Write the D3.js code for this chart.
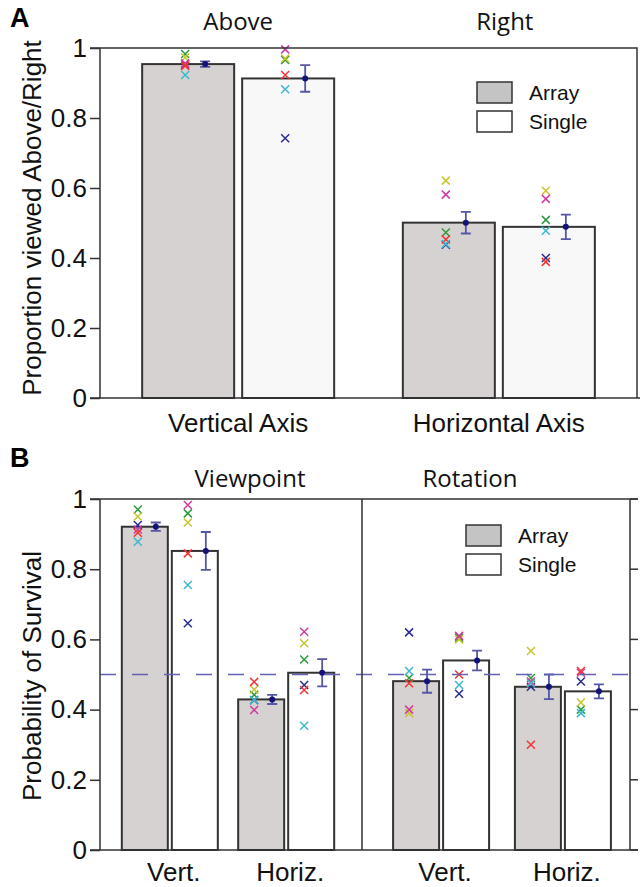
<!DOCTYPE html>
<html>
<head>
<meta charset="utf-8">
<script src="https://cdn.jsdelivr.net/npm/d3@7"></script>
<style>
  body { margin: 0; background: #fff; }
  svg { display: block; }
</style>
</head>
<body>
<div id="canvas"></div>
<script>
"use strict"

/* ---- Data ---- */
let conditions = ["Array", "Single"];
// one colour per subject: green, yellow, magenta, red, cyan, blue
let subjectColors = ["#2e9a3e", "#c9c52e", "#d23ca0", "#f23434", "#3cb8cc", "#2b2b8e"];
let yTicks = [0, 0.2, 0.4, 0.6, 0.8, 1];

// Panel A
let axesA = ["Vertical Axis", "Horizontal Axis"];
let headersA = ["Above", "Right"];
let meanA_array = [0.954, 0.501];
let meanA_single = [0.913, 0.489];
let errA_array = [0.008, 0.031];
let errA_single = [0.038, 0.035];
// per axis, per subject (green, yellow, magenta, red, cyan, blue)
let subjA_array = [
  [0.983, 0.973, 0.956, 0.949, 0.923, 0.953],
  [0.473, 0.621, 0.581, 0.453, 0.440, 0.438]
];
let subjA_single = [
  [0.966, 0.970, 0.996, 0.923, 0.882, 0.742],
  [0.509, 0.592, 0.569, 0.389, 0.478, 0.400]
];

// Panel B
let panesB = ["Viewpoint", "Rotation"];
let axesB = ["Vert.", "Horiz."];
// order: Viewpoint Vert., Viewpoint Horiz., Rotation Vert., Rotation Horiz.
let meanB_array = [0.921, 0.429, 0.481, 0.465];
let meanB_single = [0.852, 0.505, 0.540, 0.452];
let errB_array = [0.012, 0.013, 0.033, 0.035];
let errB_single = [0.054, 0.039, 0.028, 0.020];
let subjB_array = [
  [0.970, 0.950, 0.913, 0.904, 0.878, 0.926],
  [0.442, 0.457, 0.399, 0.479, 0.427, 0.427],
  [0.490, 0.390, 0.400, 0.475, 0.510, 0.620],
  [0.490, 0.567, 0.480, 0.300, 0.475, 0.465]
];
let subjB_single = [
  [0.959, 0.933, 0.983, 0.845, 0.755, 0.646],
  [0.543, 0.589, 0.622, 0.456, 0.354, 0.470],
  [0.605, 0.600, 0.610, 0.500, 0.470, 0.445],
  [0.400, 0.420, 0.505, 0.510, 0.390, 0.480]
];
let chanceLevel = 0.5;

/* ---- Drawing config ---- */
let svgWidth = 641;
let svgHeight = 887;
let frameColor = "#333";
let errColor = "#5656a6";
let dotColor = "#12127a";
let tickFont = "'Liberation Sans', Arial, sans-serif";
let headFont = "'Open Sans', 'Noto Sans', sans-serif";

let svg = d3.select("#canvas")
    .append("svg")
    .attr("width", svgWidth)
    .attr("height", svgHeight);

/* draws one pair of bars (Array / Single) with subject crosses and error bars */
function drawGroup(g, cx, means, errs, subjects, y, opt) {
    let xb = d3.scaleBand()
        .domain(conditions)
        .range([cx - opt.barW - opt.gap / 2, cx + opt.barW + opt.gap / 2])
        .paddingInner(opt.gap / (opt.barW + opt.gap));

    let rows = conditions.map(function (c, i) {
        return { cond: c, mean: means[i], err: errs[i], pts: subjects[i] };
    });

    g.selectAll(null).data(rows).join("rect")
        .attr("x", d => xb(d.cond))
        .attr("y", d => y(d.mean))
        .attr("width", xb.bandwidth())
        .attr("height", d => y(0) - y(d.mean))
        .attr("fill", d => d.cond === "Array" ? opt.grayFill : opt.whiteFill)
        .attr("stroke", frameColor)
        .attr("stroke-width", 2);

    rows.forEach(function (r) {
        let xc = xb(r.cond) + xb.bandwidth() / 2 + opt.crossDx;
        // draw blue first so it sits under the others
        let order = [5, 0, 1, 2, 3, 4];
        order.forEach(function (k) {
            let v = r.pts[k];
            if (v == null) return;
            let yy = y(v);
            g.append("path")
                .attr("d", "M" + (xc - 4) + "," + (yy - 4) + "L" + (xc + 4) + "," + (yy + 4) +
                           "M" + (xc - 4) + "," + (yy + 4) + "L" + (xc + 4) + "," + (yy - 4))
                .attr("stroke", subjectColors[k])
                .attr("stroke-width", 1.5)
                .attr("fill", "none");
        });

        let xe = xb(r.cond) + xb.bandwidth() / 2 + opt.errDx;
        let y1 = y(r.mean + r.err), y2 = y(r.mean - r.err);
        g.append("path")
            .attr("d", "M" + xe + "," + y1 + "V" + y2 +
                       "M" + (xe - 5) + "," + y1 + "H" + (xe + 5) +
                       "M" + (xe - 5) + "," + y2 + "H" + (xe + 5))
            .attr("stroke", errColor)
            .attr("stroke-width", 1.8)
            .attr("fill", "none");
        g.append("circle")
            .attr("cx", xe)
            .attr("cy", y(r.mean))
            .attr("r", 3)
            .attr("fill", dotColor);
    });
}

function drawLeftAxis(y) {
    let ax = svg.append("g")
        .attr("transform", "translate(100,0)")
        .call(d3.axisLeft(y).tickValues(yTicks).tickSize(10).tickSizeOuter(0)
            .tickPadding(3).tickFormat(d3.format("")));
    ax.select(".domain").remove();
    ax.selectAll("line").attr("stroke", frameColor).attr("stroke-width", 1.5);
    ax.selectAll("text")
        .attr("font-family", tickFont)
        .attr("font-size", 26)
        .attr("fill", "#111");
}

function drawLegend(x, y) {
    let items = [{ name: "Array", fill: "#c4c4c4" }, { name: "Single", fill: "#fff" }];
    items.forEach(function (it, i) {
        svg.append("rect")
            .attr("x", x).attr("y", y + i * 29)
            .attr("width", 35).attr("height", 21)
            .attr("fill", it.fill)
            .attr("stroke", frameColor)
            .attr("stroke-width", 1.5);
        svg.append("text")
            .attr("x", x + 52).attr("y", y + i * 29 + 18)
            .attr("font-family", tickFont)
            .attr("font-size", 21)
            .attr("fill", "#111")
            .text(it.name);
    });
}

/* ================= Panel A ================= */
let yA = d3.scaleLinear().domain([0, 1]).range([398, 48]);
let xA = d3.scalePoint().domain(axesA).range([100, 637]).padding(0.53);

let gA = svg.append("g");
axesA.forEach(function (a, i) {
    drawGroup(gA, xA(a),
        [meanA_array[i], meanA_single[i]],
        [errA_array[i], errA_single[i]],
        [subjA_array[i], subjA_single[i]],
        yA,
        { barW: 92, gap: 8, crossDx: -3, errDx: 17, grayFill: "#d6d2d1", whiteFill: "#f8f8f8" });
});

// frame
svg.append("path")
    .attr("d", "M90," + yA(1) + "H637V" + yA(0) + "M90," + yA(0) + "H640M100," + yA(1) + "V" + yA(0))
    .attr("stroke", frameColor).attr("stroke-width", 1.5).attr("fill", "none");
drawLeftAxis(yA);

svg.selectAll(null).data(headersA).join("text")
    .attr("x", (d, i) => xA(axesA[i]) + (i === 1 ? 6 : 0))
    .attr("y", 30)
    .attr("text-anchor", "middle")
    .attr("font-family", headFont)
    .attr("font-size", 24)
    .attr("fill", "#111")
    .text(d => d);

svg.selectAll(null).data(axesA).join("text")
    .attr("x", d => xA(d))
    .attr("y", 432)
    .attr("text-anchor", "middle")
    .attr("font-family", tickFont)
    .attr("font-size", 26)
    .attr("fill", "#111")
    .text(d => d);

svg.append("text")
    .attr("transform", "translate(41,218) rotate(-90)")
    .attr("text-anchor", "middle")
    .attr("font-family", tickFont)
    .attr("font-size", 26)
    .attr("fill", "#111")
    .text("Proportion viewed Above/Right");

svg.append("text")
    .attr("x", 10).attr("y", 27)
    .attr("font-family", tickFont)
    .attr("font-weight", "bold")
    .attr("font-size", 27)
    .text("A");

drawLegend(477, 82);

/* ================= Panel B ================= */
let yB = d3.scaleLinear().domain([0, 1]).range([850, 499]);
let paneRanges = [[100, 356], [368, 636]];

let gB = svg.append("g");
panesB.forEach(function (p, pi) {
    let xP = d3.scalePoint().domain(axesB).range(paneRanges[pi]).padding(0.6);
    axesB.forEach(function (a, ai) {
        let k = pi * 2 + ai;
        drawGroup(gB, xP(a),
            [meanB_array[k], meanB_single[k]],
            [errB_array[k], errB_single[k]],
            [subjB_array[k], subjB_single[k]],
            yB,
            { barW: 46, gap: 4, crossDx: -7, errDx: 11, grayFill: "#d6d2d1", whiteFill: "#fff" });
        svg.append("text")
            .attr("x", xP(a) + 4)
            .attr("y", 881)
            .attr("text-anchor", "middle")
            .attr("font-family", tickFont)
            .attr("font-size", 26)
            .attr("fill", "#111")
            .text(a);
    });
});

// chance line
svg.append("line")
    .attr("x1", 100).attr("x2", 630)
    .attr("y1", yB(chanceLevel)).attr("y2", yB(chanceLevel))
    .attr("stroke", "#6262b2")
    .attr("stroke-width", 1.3)
    .attr("stroke-dasharray", "16,16");

// frame, divider and right ticks
svg.append("path")
    .attr("d", "M90," + yB(1) + "H638M90," + yB(0) + "H638M100," + yB(1) + "V" + yB(0) +
               "M362," + yB(1) + "V" + yB(0) + "M630," + yB(1) + "V" + yB(0))
    .attr("stroke", frameColor).attr("stroke-width", 1.5).attr("fill", "none");
svg.selectAll(null).data(yTicks).join("line")
    .attr("x1", 630).attr("x2", 638)
    .attr("y1", d => yB(d)).attr("y2", d => yB(d))
    .attr("stroke", frameColor).attr("stroke-width", 1.5);
drawLeftAxis(yB);

svg.selectAll(null).data(panesB).join("text")
    .attr("x", (d, i) => [250, 470][i])
    .attr("y", 487)
    .attr("text-anchor", "middle")
    .attr("font-family", headFont)
    .attr("font-size", 24)
    .attr("fill", "#111")
    .text(d => d);

svg.append("text")
    .attr("transform", "translate(41,676) rotate(-90)")
    .attr("text-anchor", "middle")
    .attr("font-family", tickFont)
    .attr("font-size", 26)
    .attr("fill", "#111")
    .text("Probability of Survival");

svg.append("text")
    .attr("x", 10).attr("y", 467)
    .attr("font-family", tickFont)
    .attr("font-weight", "bold")
    .attr("font-size", 27)
    .text("B");

drawLegend(466, 525);
</script>
</body>
</html>
